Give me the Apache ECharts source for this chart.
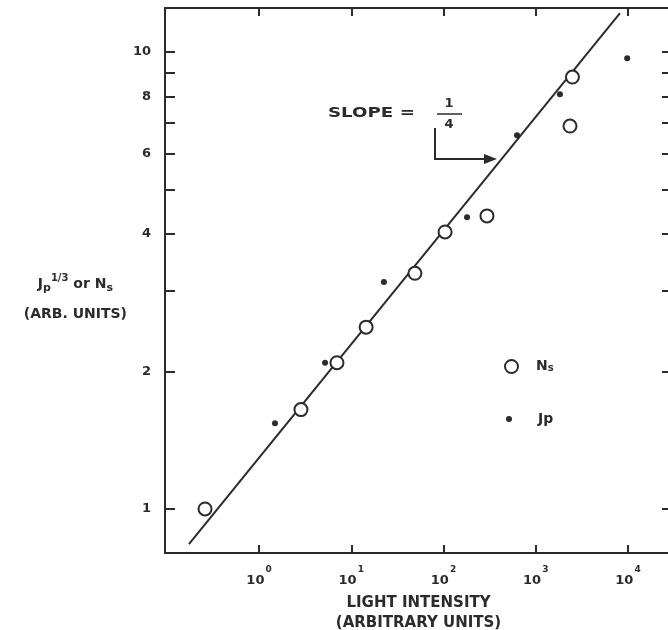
<!DOCTYPE html>
<html>
<head>
<meta charset="utf-8">
<script src="https://cdn.jsdelivr.net/npm/echarts@6/dist/echarts.min.js"></script>
<style>
  html, body { margin: 0; padding: 0; background: #fff; }
  #main { width: 668px; height: 630px; }
</style>
</head>
<body>
<div id="main"></div>
<script>
// N_s (open circles)
const nsX = [0.26, 2.85, 7.0, 14.5, 49, 104, 296, 2350, 2500];
const nsY = [1.0, 1.65, 2.09, 2.50, 3.28, 4.04, 4.38, 6.89, 8.82];
// J_p (dots)
const jpX = [1.49, 5.2, 22.6, 180, 627, 1830, 9800];
const jpY = [1.54, 2.09, 3.14, 4.35, 6.58, 8.09, 9.70];
// slope 1/4 line
const fitX = [0.174, 8190];
const fitY = [0.838, 12.17];

const xTicks = [1, 10, 100, 1000, 10000];
const yTicks = [1, 2, 3, 4, 5, 6, 7, 8, 9, 10];
const yLabels = [1, 2, 4, 6, 8, 10];

const ink = '#2b2b2b';
const font = 'DejaVu Sans';
const weight = 'bold';

const xMin = 0.0957, xMax = 30000;
const yMin = 0.801, yMax = 12.49;

const chart = echarts.init(document.getElementById('main'));

function pairs(xs, ys) {
  return xs.map((x, i) => [x, ys[i]]);
}

const frameLine = { lineStyle: { color: ink, width: 2 } };
const tickStyle = { color: ink, width: 2 };
const txt = { fontFamily: font, fontWeight: weight, color: ink };

chart.setOption({
  animation: false,
  backgroundColor: '#fff',
  grid: { left: 165, top: 8, right: -4, bottom: 77, outerBoundsMode: 'none', containLabel: false },
  xAxis: [{
    type: 'log',
    min: xMin,
    max: xMax,
    position: 'bottom',
    axisLine: frameLine,
    axisTick: { inside: true, length: 8, customValues: xTicks, lineStyle: tickStyle },
    axisLabel: {
      customValues: xTicks,
      margin: 12,
      formatter: v => '{b|10}{s|' + Math.round(Math.log10(v)) + '}',
      rich: {
        b: { ...txt, fontSize: 13, lineHeight: 22, verticalAlign: 'bottom' },
        s: { ...txt, fontSize: 9, lineHeight: 10, verticalAlign: 'top', padding: [0, 0, 0, 1] }
      }
    },
    splitLine: { show: false },
    name: 'LIGHT INTENSITY\n(ARBITRARY UNITS)',
    nameLocation: 'middle',
    nameGap: 40,
    nameTextStyle: { ...txt, fontSize: 15, lineHeight: 20 }
  }, {
    type: 'log',
    min: xMin,
    max: xMax,
    position: 'top',
    axisLine: frameLine,
    axisTick: { inside: true, length: 8, customValues: xTicks, lineStyle: tickStyle },
    axisLabel: { show: false },
    splitLine: { show: false }
  }],
  yAxis: [{
    type: 'log',
    min: yMin,
    max: yMax,
    position: 'left',
    axisLine: frameLine,
    axisTick: { inside: true, length: 10, customValues: yTicks, lineStyle: tickStyle },
    axisLabel: { customValues: yLabels, margin: 14, ...txt, fontSize: 13 },
    splitLine: { show: false },
    name: '{t|J}{sub|p}{sup|1/3}{t| or N}{sub|s}\n{t|(ARB. UNITS)}',
    nameLocation: 'middle',
    nameRotate: 0,
    nameGap: 84,
    nameTextStyle: {
      align: 'center',
      verticalAlign: 'middle',
      padding: [38, 0, 0, 0],
      rich: {
        t: { ...txt, fontSize: 14, lineHeight: 30 },
        sub: { ...txt, fontSize: 11, lineHeight: 12, verticalAlign: 'bottom', padding: [0, 0, 6, 0] },
        sup: { ...txt, fontSize: 10, lineHeight: 12, verticalAlign: 'top', padding: [4, 0, 0, 0] }
      }
    }
  }, {
    type: 'log',
    min: yMin,
    max: yMax,
    position: 'right',
    axisLine: frameLine,
    axisTick: { inside: true, length: 10, customValues: yTicks, lineStyle: tickStyle },
    axisLabel: { show: false },
    splitLine: { show: false }
  }],
  legend: [{
    data: ['Ns'],
    left: 504,
    top: 359,
    padding: 0,
    itemWidth: 13,
    itemHeight: 13,
    selectedMode: false,
    formatter: () => '{n|N}{s|s}',
    textStyle: {
      padding: [0, 0, 0, 13],
      rich: {
        n: { ...txt, fontSize: 14 },
        s: { ...txt, fontSize: 10, verticalAlign: 'bottom' }
      }
    }
  }, {
    data: ['Jp'],
    left: 506,
    top: 412,
    padding: 0,
    itemWidth: 6,
    itemHeight: 6,
    selectedMode: false,
    textStyle: { ...txt, fontSize: 14, padding: [0, 0, 0, 21] }
  }],
  graphic: [
    { type: 'text', x: 328, y: 113, scaleX: 1.3, style: { text: 'SLOPE =', fontFamily: font, fontWeight: weight, fontSize: 14, fill: ink, verticalAlign: 'middle' } },
    { type: 'text', x: 449, y: 104, style: { text: '1', fontFamily: font, fontWeight: weight, fontSize: 13, fill: ink, align: 'center', verticalAlign: 'middle' } },
    { type: 'line', shape: { x1: 437, y1: 114, x2: 462, y2: 114 }, style: { stroke: ink, lineWidth: 1.5 } },
    { type: 'text', x: 449, y: 125, style: { text: '4', fontFamily: font, fontWeight: weight, fontSize: 13, fill: ink, align: 'center', verticalAlign: 'middle' } },
    { type: 'polyline', shape: { points: [[435, 128], [435, 159], [486, 159]] }, style: { stroke: ink, lineWidth: 2, fill: null } },
    { type: 'polygon', shape: { points: [[484, 154], [497, 159], [484, 164]] }, style: { fill: ink } }
  ],
  series: [{
    name: 'fit',
    type: 'line',
    data: pairs(fitX, fitY),
    showSymbol: false,
    lineStyle: { color: ink, width: 2 },
    silent: true,
    z: 2
  }, {
    name: 'Ns',
    type: 'scatter',
    data: pairs(nsX, nsY),
    symbol: 'circle',
    symbolSize: 13,
    itemStyle: { color: '#fff', borderColor: ink, borderWidth: 2, opacity: 1 },
    z: 3
  }, {
    name: 'Jp',
    type: 'scatter',
    data: pairs(jpX, jpY),
    symbol: 'circle',
    symbolSize: 6,
    itemStyle: { color: ink, opacity: 1 },
    z: 3
  }]
});
</script>
</body>
</html>
